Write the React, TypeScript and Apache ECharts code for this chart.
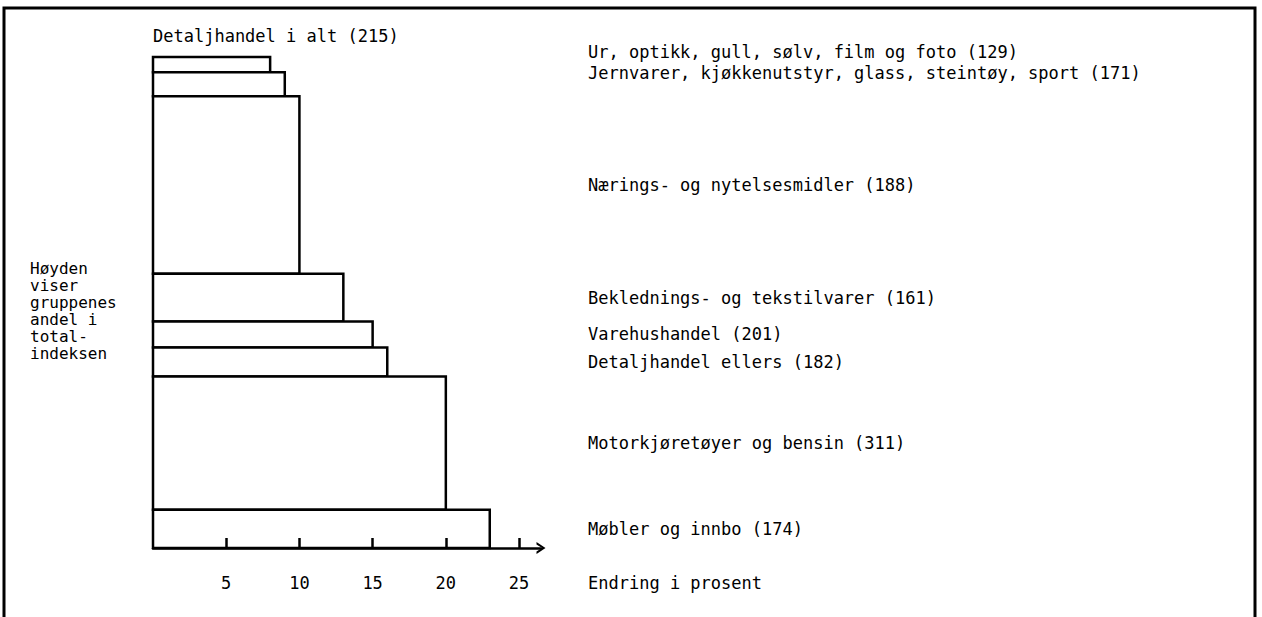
import React, { useEffect, useRef } from "react";
import * as echarts from "echarts";

// ---------- data ----------
const CATEGORIES = [
  "Ur, optikk, gull, sølv, film og foto",
  "Jernvarer, kjøkkenutstyr, glass, steintøy, sport",
  "Nærings- og nytelsesmidler",
  "Beklednings- og tekstilvarer",
  "Varehushandel",
  "Detaljhandel ellers",
  "Motorkjøretøyer og bensin",
  "Møbler og innbo",
];
const INDEX_VALUES = [129, 171, 188, 161, 201, 182, 311, 174];
const CHANGE_PCT = [8, 9, 10, 13, 15, 16, 20, 23];
const SHARE = [3.1, 4.9, 36.1, 9.7, 5.3, 5.9, 27.1, 7.8];
const TOTAL_LABEL = "Detaljhandel i alt";
const TOTAL_INDEX = 215;
const TICKS = [5, 10, 15, 20, 25];
const X_AXIS_TITLE = "Endring i prosent";
const NOTE_LINES = ["Høyden", "viser", "gruppenes", "andel i", "total-", "indeksen"];

// ---------- layout / style ----------
const FONT = "'DejaVu Sans Mono', monospace";
const FS = 17;
const NOTE_FS = 16;
const LABEL_X = 588;
const LABEL_NUDGE = [-13, -11, 0, 0, 0, 0, 0, 0];
const LW = 2.5;

export default function App() {
  const ref = useRef<HTMLDivElement>(null);

  useEffect(() => {
    if (!ref.current) return;
    const chart = echarts.init(ref.current, undefined, { renderer: "svg" });

    const starts: number[] = [];
    let acc = 0;
    SHARE.forEach((s) => {
      starts.push(acc);
      acc += s;
    });
    const total = acc;
    const data = CHANGE_PCT.map((c, i) => [c, starts[i], starts[i] + SHARE[i], i]);

    chart.setOption({
      animation: false,
      backgroundColor: "#fff",
      grid: {
        left: 153,
        right: 721,
        top: 57,
        bottom: 69,
        containLabel: false,
        outerBoundsMode: "none",
      },
      xAxis: {
        type: "value",
        position: "bottom",
        z: 10,
        min: 0,
        max: 26.5,
        interval: 5,
        splitLine: { show: false },
        axisLine: {
          show: true,
          onZero: false,
          lineStyle: { color: "#000", width: LW },
          symbol: ["none", "path://M0,9 L6,0 L12,9 L9.6,9 L6,3.4 L2.4,9 Z"],
          symbolSize: [14, 9],
        },
        axisTick: {
          show: true,
          inside: true,
          length: 10,
          customValues: TICKS,
          lineStyle: { color: "#000", width: LW },
        },
        axisLabel: {
          show: true,
          customValues: TICKS,
          margin: 26,
          color: "#000",
          fontFamily: FONT,
          fontSize: FS,
        },
      },
      yAxis: {
        type: "value",
        inverse: true,
        min: 0,
        max: total,
        show: false,
      },
      series: [
        {
          type: "custom",
          clip: false,
          z: 2,
          data,
          renderItem: (params: any, api: any) => {
            const v = api.value(0);
            const y0 = api.value(1);
            const y1 = api.value(2);
            const i = api.value(3);
            const p0 = api.coord([0, y0]);
            const p1 = api.coord([v, y1]);
            return {
              type: "group",
              children: [
                {
                  type: "rect",
                  shape: { x: p0[0], y: p0[1], width: p1[0] - p0[0], height: p1[1] - p0[1] },
                  style: { fill: "#fff", stroke: "#000", lineWidth: LW },
                },
                {
                  type: "text",
                  x: LABEL_X,
                  y: (p0[1] + p1[1]) / 2 + LABEL_NUDGE[i],
                  style: {
                    text: `${CATEGORIES[i]} (${INDEX_VALUES[i]})`,
                    fill: "#000",
                    font: `${FS}px ${FONT}`,
                    verticalAlign: "middle",
                    align: "left",
                  },
                },
              ],
            };
          },
        },
      ],
      graphic: [
        {
          type: "rect",
          shape: { x: 4, y: 8, width: 1251, height: 700 },
          style: { fill: "none", stroke: "#000", lineWidth: 3 },
          silent: true,
        },
        {
          type: "text",
          x: 153,
          y: 36,
          style: {
            text: `${TOTAL_LABEL} (${TOTAL_INDEX})`,
            fill: "#000",
            font: `${FS}px ${FONT}`,
            verticalAlign: "middle",
          },
        },
        {
          type: "text",
          x: LABEL_X,
          y: 583,
          style: {
            text: X_AXIS_TITLE,
            fill: "#000",
            font: `${FS}px ${FONT}`,
            verticalAlign: "middle",
          },
        },
        ...NOTE_LINES.map((line, k) => ({
          type: "text",
          x: 30,
          y: 268 + k * 17,
          style: {
            text: line,
            fill: "#000",
            font: `${NOTE_FS}px ${FONT}`,
            verticalAlign: "middle",
          },
        })),
      ],
    });

    return () => chart.dispose();
  }, []);

  return (
    <div
      ref={ref}
      style={{ position: "fixed", left: 0, top: 0, width: 1262, height: 617 }}
    />
  );
}
